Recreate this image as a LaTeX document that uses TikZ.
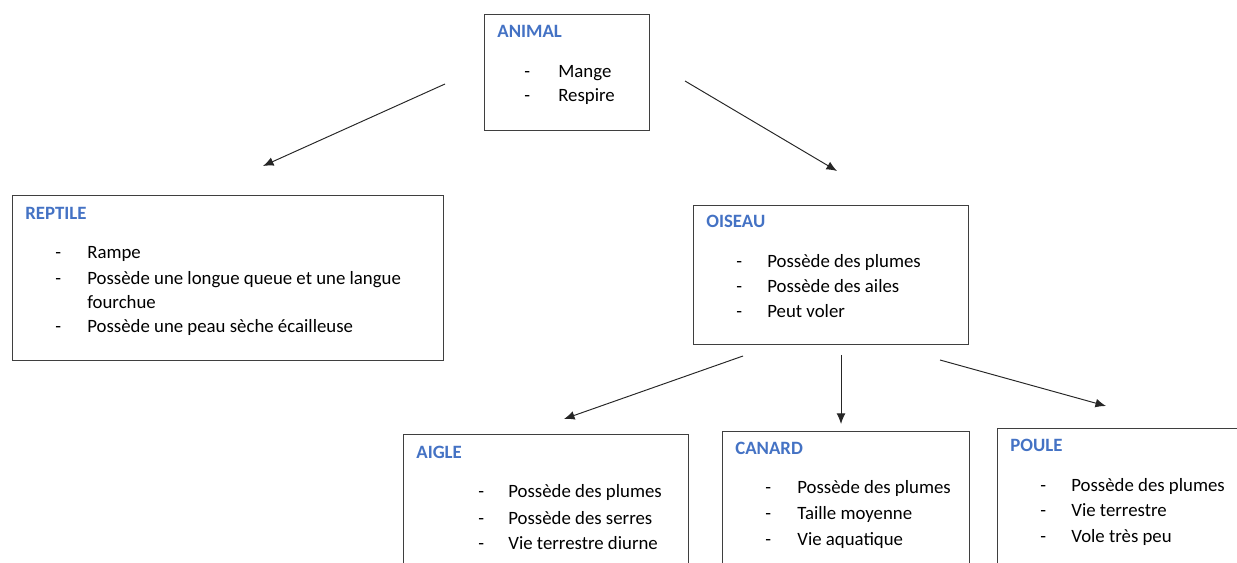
\documentclass[tikz,border=0pt]{standalone}
\usepackage{fontspec}
\setsansfont{Carlito}
\usepackage{tikz}
\usetikzlibrary{arrows.meta}
\tikzstyle{every picture}+=[font=\sffamily]
\definecolor{titleblue}{HTML}{4472C4}
\definecolor{boxline}{HTML}{3F3F3F}
\newcommand{\boxfont}{\sffamily\fontsize{10.7pt}{13pt}\selectfont}

\begin{document}
\begin{tikzpicture}
	[font=\boxfont, x=0.02cm, y=-0.02cm, inner sep=0pt,
	box/.style	= {rectangle, draw=boxline, line width=0.6pt, anchor=north west},
	title/.style	= {anchor=base west, text=titleblue, font=\boxfont\bfseries},
	bullet/.style	= {anchor=base west},
	item/.style	= {anchor=base west},
	paths/.style	= {-{Latex[length=6pt, width=5pt]}, draw=black!85, line width=0.55pt}]
	
	\useasboundingbox (0, 0) rectangle (1237, 563);
	
	\node at (484, 14)	[box, minimum width=3.30cm, minimum height=2.32cm]	(animal)	{};
	\node at (12, 195)	[box, minimum width=8.62cm, minimum height=3.30cm]	(reptile)	{};
	\node at (693, 205)	[box, minimum width=5.50cm, minimum height=2.78cm]	(oiseau)	{};
	\node at (403, 434)	[box, minimum width=5.70cm, minimum height=3.00cm]	(aigle)		{};
	\node at (722, 431)	[box, minimum width=4.94cm, minimum height=3.00cm]	(canard)	{};
	\node at (997, 428)	[box, minimum width=6.00cm, minimum height=3.00cm]	(poule)		{};
	
	\node at (497, 38)	[title]	(t-animal)	{ANIMAL};
	\node at (25, 220)	[title]	(t-reptile)	{REPTILE};
	\node at (706, 228)	[title]	(t-oiseau)	{OISEAU};
	\node at (416, 459)	[title]	(t-aigle)	{AIGLE};
	\node at (735, 455)	[title]	(t-canard)	{CANARD};
	\node at (1010, 452)	[title]	(t-poule)	{POULE};
	
	\node at (524, 78)	[bullet] (animal-d1) {-};	\node at (558, 78)	[item] (animal-1) {Mange};
	\node at (524, 102)	[bullet] (animal-d2) {-};	\node at (558, 102)	[item] (animal-2) {Respire};
	
	\node at (55, 259)	[bullet] (reptile-d1) {-};	\node at (87, 259)	[item] (reptile-1) {Rampe};
	\node at (55, 285)	[bullet] (reptile-d2) {-};	\node at (87, 285)	[item] (reptile-2) {Possède une longue queue et une langue};
									\node at (87, 309)	[item] (reptile-2b) {fourchue};
	\node at (55, 333)	[bullet] (reptile-d3) {-};	\node at (87, 333)	[item] (reptile-3) {Possède une peau sèche écailleuse};
	
	\node at (736, 268)	[bullet] (oiseau-d1) {-};	\node at (767, 268)	[item] (oiseau-1) {Possède des plumes};
	\node at (736, 293)	[bullet] (oiseau-d2) {-};	\node at (767, 293)	[item] (oiseau-2) {Possède des ailes};
	\node at (736, 318)	[bullet] (oiseau-d3) {-};	\node at (767, 318)	[item] (oiseau-3) {Peut voler};
	
	\node at (478, 498)	[bullet] (aigle-d1) {-};	\node at (508, 498)	[item] (aigle-1) {Possède des plumes};
	\node at (478, 524)	[bullet] (aigle-d2) {-};	\node at (508, 524)	[item] (aigle-2) {Possède des serres};
	\node at (478, 549)	[bullet] (aigle-d3) {-};	\node at (508, 549)	[item] (aigle-3) {Vie terrestre diurne};
	
	\node at (765, 494)	[bullet] (canard-d1) {-};	\node at (797, 494)	[item] (canard-1) {Possède des plumes};
	\node at (765, 520)	[bullet] (canard-d2) {-};	\node at (797, 520)	[item] (canard-2) {Taille moyenne};
	\node at (765, 545)	[bullet] (canard-d3) {-};	\node at (797, 545)	[item] (canard-3) {Vie aquatique};
	
	\node at (1040, 492)	[bullet] (poule-d1) {-};	\node at (1071, 492)	[item] (poule-1) {Possède des plumes};
	\node at (1040, 517)	[bullet] (poule-d2) {-};	\node at (1071, 517)	[item] (poule-2) {Vie terrestre};
	\node at (1040, 542)	[bullet] (poule-d3) {-};	\node at (1071, 542)	[item] (poule-3) {Vole très peu};
	
	\coordinate (animal-l)	at (445, 84);	\coordinate (reptile-in)	at (263, 166);
	\coordinate (animal-r)	at (685, 81);	\coordinate (oiseau-in)		at (837, 171);
	\coordinate (oiseau-l)	at (743, 356);	\coordinate (aigle-in)		at (564, 419);
	\coordinate (oiseau-m)	at (841, 355);	\coordinate (canard-in)		at (841, 424);
	\coordinate (oiseau-r)	at (940, 360);	\coordinate (poule-in)		at (1106, 406);
	
	\draw [paths] (animal-l) -- (reptile-in);
	\draw [paths] (animal-r) -- (oiseau-in);
	\draw [paths] (oiseau-l) -- (aigle-in);
	\draw [paths] (oiseau-m) -- (canard-in);
	\draw [paths] (oiseau-r) -- (poule-in);
\end{tikzpicture}
\end{document}
